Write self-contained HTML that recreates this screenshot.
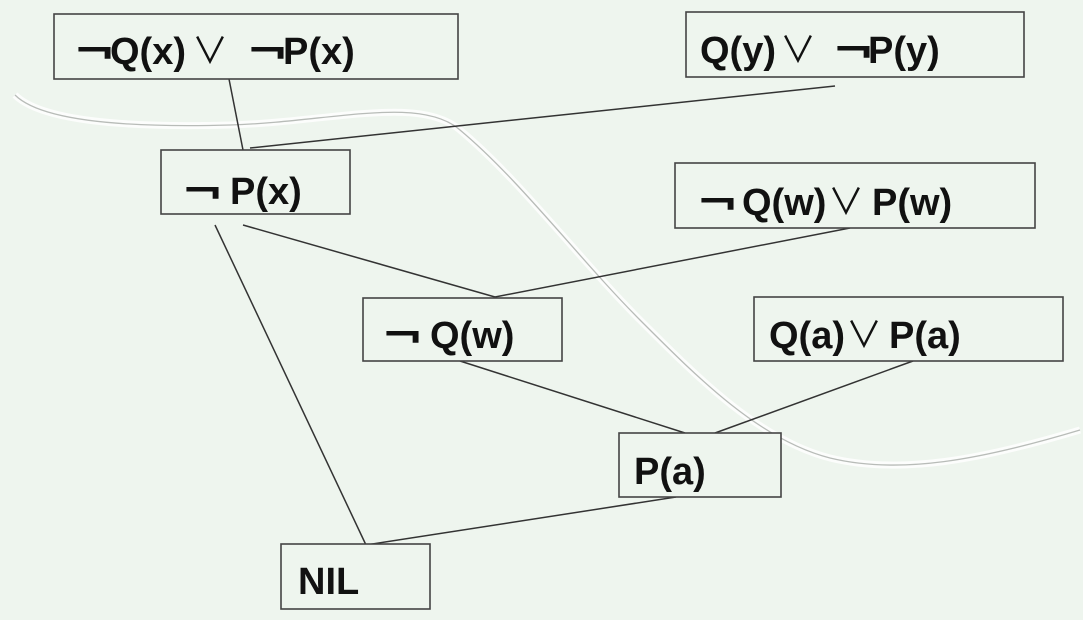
<!DOCTYPE html>
<html><head><meta charset="utf-8"><style>
html,body{margin:0;padding:0;background:#eef5ee;}
svg{display:block}
text{font-family:"Liberation Sans","DejaVu Sans",sans-serif;font-weight:bold;font-size:38px;fill:#111}
.t{font-weight:normal;font-family:"Noto Sans CJK JP","DejaVu Sans",sans-serif;font-size:36px}
.n{font-weight:bold;font-family:"DejaVu Sans",sans-serif;font-size:38px}
</style></head><body>
<svg width="1083" height="620" viewBox="0 0 1083 620" xmlns="http://www.w3.org/2000/svg">
<rect width="1083" height="620" fill="#eef5ee"/>
<path d="M15,95 C40,120 120,128 230,125 C330,122 420,95 460,130 C520,180 580,260 640,320 C700,380 760,440 830,458 C900,475 980,460 1080,430" fill="none" stroke="#ffffff" stroke-width="7" opacity="0.8"/>
<path d="M15,95 C40,120 120,128 230,125 C330,122 420,95 460,130 C520,180 580,260 640,320 C700,380 760,440 830,458 C900,475 980,460 1080,430" fill="none" stroke="#b8bcb8" stroke-width="1.3"/>
<g stroke="#333" stroke-width="1.5" fill="none">
<line x1="229" y1="79" x2="243" y2="150"/>
<line x1="250" y1="148" x2="835" y2="86"/>
<line x1="243" y1="225" x2="495" y2="297"/>
<line x1="495" y1="297" x2="850" y2="228"/>
<line x1="215" y1="225" x2="366" y2="545"/>
<line x1="460" y1="361" x2="685" y2="433"/>
<line x1="715" y1="433" x2="913" y2="361"/>
<line x1="366" y1="545" x2="676" y2="497"/>
</g>
<g stroke="#444" stroke-width="1.6" fill="#eef5ee">
<rect x="54" y="14" width="404" height="65"/>
<rect x="686" y="12" width="338" height="65"/>
<rect x="161" y="150" width="189" height="64"/>
<rect x="675" y="163" width="360" height="65"/>
<rect x="363" y="298" width="199" height="63"/>
<rect x="754" y="297" width="309" height="64"/>
<rect x="619" y="433" width="162" height="64"/>
<rect x="281" y="544" width="149" height="65"/>
</g>
<text class="n" transform="translate(73,64) scale(1.35,1)">¬</text><text x="110" y="64">Q(x)</text>
<text class="t" x="192" y="63">∨</text>
<text class="n" transform="translate(246,64) scale(1.35,1)">¬</text><text x="283" y="64">P(x)</text>
<text x="700" y="63">Q(y)</text>
<text class="t" x="780" y="62">∨</text>
<text class="n" transform="translate(832,63) scale(1.35,1)">¬</text><text x="868" y="63">P(y)</text>
<text class="n" transform="translate(181,204) scale(1.35,1)">¬</text><text x="230" y="204">P(x)</text>
<text class="n" transform="translate(696,215) scale(1.35,1)">¬</text><text x="742" y="215">Q(w)</text>
<text class="t" x="828" y="214">∨</text>
<text x="872" y="215">P(w)</text>
<text class="n" transform="translate(381,348) scale(1.35,1)">¬</text><text x="430" y="348">Q(w)</text>
<text x="769" y="348">Q(a)</text>
<text class="t" x="846" y="347">∨</text>
<text x="889" y="348">P(a)</text>
<text x="634" y="484">P(a)</text>
<text x="298" y="594">NIL</text>
</svg>
</body></html>
